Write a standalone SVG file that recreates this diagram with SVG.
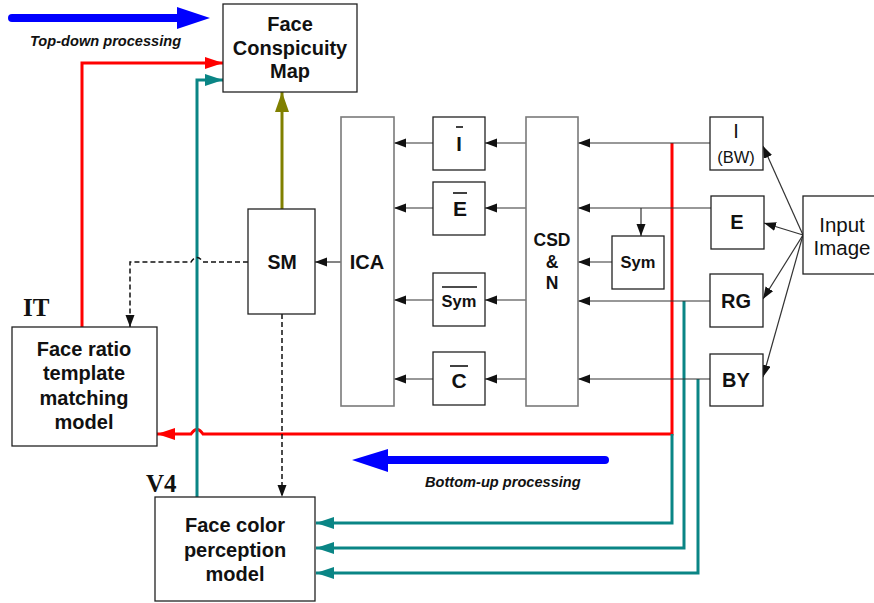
<svg xmlns="http://www.w3.org/2000/svg" width="874" height="603" viewBox="0 0 874 603">
<style>
.box{fill:#fff;stroke:#222;stroke-width:1.3}
.gbox{fill:#fff;stroke:#7a7a7a;stroke-width:1.6}
.t{font-family:"Liberation Sans",Arial,sans-serif;font-weight:bold;fill:#111;text-anchor:middle}
.r{font-family:"Liberation Sans",Arial,sans-serif;fill:#111;text-anchor:middle}
.lbl{font-family:"Liberation Serif","Times New Roman",serif;font-weight:bold;font-size:25px;fill:#111}
.it{font-family:"Liberation Sans",Arial,sans-serif;font-weight:bold;font-style:italic;font-size:14.6px;fill:#111}
.thin{fill:none;stroke:#333;stroke-width:1.2}
.dash{fill:none;stroke:#111;stroke-width:1.5;stroke-dasharray:5,3}
.red{fill:none;stroke:#ff0000;stroke-width:3}
.teal{fill:none;stroke:#0a8585;stroke-width:3}
.olive{fill:none;stroke:#808000;stroke-width:3}
.blue{fill:none;stroke:#0000ff;stroke-width:8;stroke-linecap:round}
.ov{stroke:#111;stroke-width:1.6}
</style>
<defs>
<marker id="ab" markerUnits="userSpaceOnUse" markerWidth="13" markerHeight="10" refX="12" refY="4.5" orient="auto"><path d="M0,0 L12,4.5 L0,9 z" fill="#111"/></marker>
<marker id="ar" markerUnits="userSpaceOnUse" markerWidth="19" markerHeight="13" refX="18" refY="6" orient="auto"><path d="M0,0 L18,6 L0,12 z" fill="#ff0000"/></marker>
<marker id="at" markerUnits="userSpaceOnUse" markerWidth="19" markerHeight="13" refX="18" refY="6" orient="auto"><path d="M0,0 L18,6 L0,12 z" fill="#0a8585"/></marker>
<marker id="ao" markerUnits="userSpaceOnUse" markerWidth="21" markerHeight="14" refX="20" refY="7" orient="auto"><path d="M0,0 L20,7 L0,14 z" fill="#808000"/></marker>
</defs>

<g id="connectors">
  <line class="blue" x1="12" y1="18" x2="180" y2="18"/>
  <polygon points="177,7 210,18 177,29" fill="#0000ff"/>
  <line class="blue" x1="605" y1="460" x2="385" y2="460"/>
  <polygon points="388,449 352,460 388,472" fill="#0000ff"/>

  <path class="red" d="M82,327 V63 H223" marker-end="url(#ar)"/>
  <path class="red" d="M672,143 V434 H203 q-6,-9 -12,0 H157" marker-end="url(#ar)"/>

  <path class="teal" d="M197,497 V80 H223" marker-end="url(#at)"/>
  <path class="teal" d="M672,434 V523 H316" marker-end="url(#at)"/>
  <path class="teal" d="M684,301 V548 H316" marker-end="url(#at)"/>
  <path class="teal" d="M698,379 V573 H316" marker-end="url(#at)"/>

  <line class="olive" x1="282" y1="209" x2="282" y2="92" marker-end="url(#ao)"/>

  <path class="dash" d="M248,262 H203 q-6,-9 -12,0 H130 V327" marker-end="url(#ab)"/>
  <line class="dash" x1="282" y1="314" x2="282" y2="497" marker-end="url(#ab)"/>

  <line class="thin" x1="341" y1="262" x2="315" y2="262" marker-end="url(#ab)"/>

  <line class="thin" x1="433" y1="143" x2="394" y2="143" marker-end="url(#ab)"/>
  <line class="thin" x1="433" y1="208" x2="394" y2="208" marker-end="url(#ab)"/>
  <line class="thin" x1="433" y1="300" x2="394" y2="300" marker-end="url(#ab)"/>
  <line class="thin" x1="433" y1="379" x2="394" y2="379" marker-end="url(#ab)"/>

  <line class="thin" x1="526" y1="143" x2="485" y2="143" marker-end="url(#ab)"/>
  <line class="thin" x1="526" y1="208" x2="485" y2="208" marker-end="url(#ab)"/>
  <line class="thin" x1="526" y1="300" x2="485" y2="300" marker-end="url(#ab)"/>
  <line class="thin" x1="526" y1="379" x2="485" y2="379" marker-end="url(#ab)"/>

  <line class="thin" x1="710" y1="143" x2="578" y2="143" marker-end="url(#ab)"/>
  <line class="thin" x1="711" y1="208" x2="578" y2="208" marker-end="url(#ab)"/>
  <line class="thin" x1="641" y1="208" x2="641" y2="236" marker-end="url(#ab)"/>
  <line class="thin" x1="612" y1="262" x2="578" y2="262" marker-end="url(#ab)"/>
  <line class="thin" x1="710" y1="301" x2="578" y2="301" marker-end="url(#ab)"/>
  <line class="thin" x1="710" y1="379" x2="578" y2="379" marker-end="url(#ab)"/>

  <line class="thin" x1="803" y1="235" x2="763" y2="146" marker-end="url(#ab)"/>
  <line class="thin" x1="803" y1="235" x2="764" y2="223" marker-end="url(#ab)"/>
  <line class="thin" x1="803" y1="235" x2="763" y2="299" marker-end="url(#ab)"/>
  <line class="thin" x1="803" y1="235" x2="763" y2="377" marker-end="url(#ab)"/>
</g>

<text class="it" x="30" y="46">Top-down processing</text>
<text class="it" x="425" y="487">Bottom-up processing</text>

<g id="map">
  <rect class="box" x="223" y="4" width="134" height="88"/>
  <text class="t" font-size="20" x="290" y="31">Face</text>
  <text class="t" font-size="20" x="290" y="55">Conspicuity</text>
  <text class="t" font-size="20" x="290" y="78">Map</text>
</g>

<g id="sm">
  <rect class="box" x="248" y="209" width="67" height="105"/>
  <text class="t" font-size="19.5" x="282" y="269">SM</text>
</g>

<g id="ica">
  <rect class="gbox" x="341" y="117" width="53" height="289"/>
  <text class="t" font-size="20" x="367" y="269">ICA</text>
</g>

<g id="ibar">
  <rect class="box" x="433" y="117" width="52" height="53"/>
  <line class="ov" x1="456" y1="127" x2="463" y2="127"/>
  <text class="t" font-size="20" x="459" y="151">I</text>
</g>
<g id="ebar">
  <rect class="box" x="433" y="182" width="52" height="53"/>
  <line class="ov" x1="453" y1="193" x2="467" y2="193"/>
  <text class="t" font-size="21" x="460" y="216">E</text>
</g>
<g id="symbar">
  <rect class="box" x="433" y="273" width="52" height="53"/>
  <line class="ov" x1="442" y1="287" x2="477" y2="287"/>
  <text class="t" font-size="16.5" x="459" y="307">Sym</text>
</g>
<g id="cbar">
  <rect class="box" x="433" y="352" width="52" height="53"/>
  <line class="ov" x1="450" y1="366" x2="468" y2="366"/>
  <text class="t" font-size="21" x="459" y="388">C</text>
</g>

<g id="csd">
  <rect class="gbox" x="526" y="117" width="52" height="289"/>
  <text class="t" font-size="17.5" x="552" y="246">CSD</text>
  <text class="t" font-size="17.5" x="552" y="268">&amp;</text>
  <text class="t" font-size="17.5" x="552" y="289">N</text>
</g>

<g id="sym">
  <rect class="box" x="612" y="236" width="52" height="53"/>
  <text class="t" font-size="16.5" x="638" y="268">Sym</text>
</g>

<g id="i">
  <rect class="box" x="710" y="117" width="53" height="53"/>
  <text class="r" font-size="20" x="736" y="138">I</text>
  <text class="r" font-size="16.5" x="736" y="163">(BW)</text>
</g>
<g id="e">
  <rect class="box" x="711" y="196" width="53" height="53"/>
  <text class="t" font-size="20" x="737" y="229">E</text>
</g>
<g id="rg">
  <rect class="box" x="710" y="274" width="53" height="53"/>
  <text class="t" font-size="20" x="736" y="308">RG</text>
</g>
<g id="by">
  <rect class="box" x="710" y="354" width="53" height="52"/>
  <text class="t" font-size="20" x="736" y="387">BY</text>
</g>

<g id="input">
  <rect class="box" x="803" y="196" width="78" height="78"/>
  <text class="r" font-size="20.5" x="842" y="232">Input</text>
  <text class="r" font-size="20.5" x="842" y="255">Image</text>
</g>

<g id="it">
  <text class="lbl" x="23" y="316">IT</text>
  <rect class="box" x="12" y="327" width="145" height="119"/>
  <text class="t" font-size="20" x="84" y="356">Face ratio</text>
  <text class="t" font-size="20" x="84" y="380">template</text>
  <text class="t" font-size="20" x="84" y="405">matching</text>
  <text class="t" font-size="20" x="84" y="429">model</text>
</g>

<g id="v4">
  <text class="lbl" x="146" y="492">V4</text>
  <rect class="box" x="155" y="497" width="160" height="104"/>
  <text class="t" font-size="20" x="235" y="532">Face color</text>
  <text class="t" font-size="20" x="235" y="557">perception</text>
  <text class="t" font-size="20" x="235" y="581">model</text>
</g>
</svg>
